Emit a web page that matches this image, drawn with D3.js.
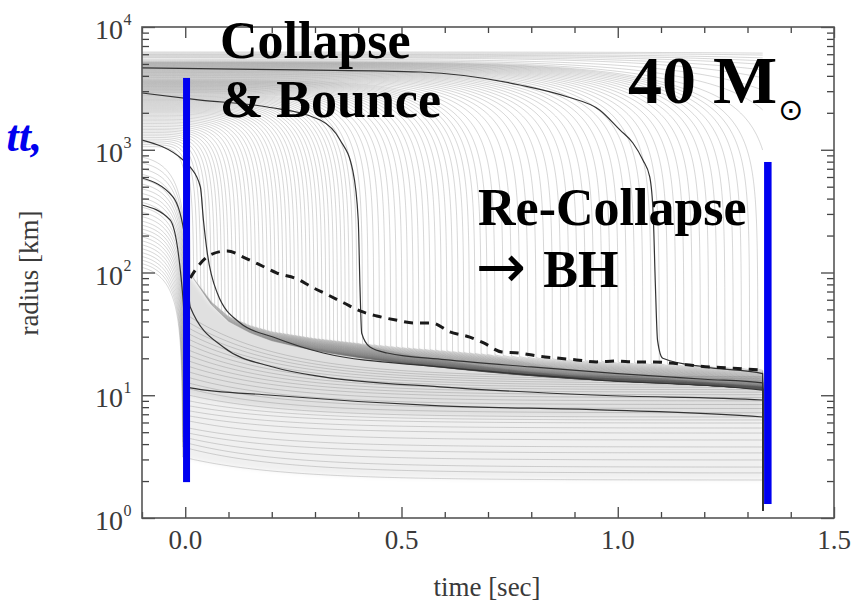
<!DOCTYPE html>
<html>
<head>
<meta charset="utf-8">
<script src="https://cdn.jsdelivr.net/npm/d3@7"></script>
<style>
  html, body { margin: 0; padding: 0; background: #fff; }
  svg { display: block; }
</style>
</head>
<body>
<svg id="chart" width="853" height="604"></svg>
<script>
// ---------------------------------------------------------------
// Mass-shell trajectories of a collapsing 40 Msun core (radius vs time)
// ---------------------------------------------------------------

// axis ticks
const timeMajor = [0.0, 0.5, 1.0, 1.5];
const timeMinor = [-0.1, 0.1, 0.2, 0.3, 0.4, 0.6, 0.7, 0.8, 0.9, 1.1, 1.2, 1.3, 1.4];
const radiusMajor = [1, 10, 100, 1000, 10000];
const radiusExponent = ["0", "1", "2", "3", "4"];
const radiusMinorMantissa = [2, 3, 4, 5, 6, 7, 8, 9];

// key times [s]
const tFirst = -0.1;     // first sample of the run
const tBH = 1.335;       // black hole formation, end of the run

// outer shells: time at which each shell plunges onto the core [s]
const outerDropTime = [
  0.012, 0.020, 0.028, 0.036, 0.044, 0.052, 0.060, 0.068, 0.076, 0.084, 0.092, 0.100,
  0.109, 0.118, 0.127, 0.136, 0.145, 0.154, 0.163, 0.172, 0.181, 0.190, 0.199, 0.208,
  0.217, 0.226, 0.235, 0.244, 0.253, 0.262, 0.271, 0.280, 0.289, 0.298, 0.307, 0.316,
  0.325, 0.334, 0.343, 0.352, 0.361, 0.370, 0.379, 0.388, 0.397,
  0.410, 0.423, 0.436, 0.449, 0.462, 0.475, 0.488, 0.501, 0.514, 0.527, 0.540, 0.553,
  0.566, 0.579, 0.592, 0.605, 0.618, 0.631, 0.644, 0.657, 0.670, 0.684, 0.698,
  0.716, 0.735, 0.754, 0.773, 0.792, 0.811, 0.830, 0.849, 0.868, 0.887, 0.906, 0.925,
  0.944, 0.963, 0.982, 1.001, 1.020, 1.039, 1.058, 1.077, 1.096, 1.115, 1.134, 1.153,
  1.172, 1.191, 1.210, 1.229, 1.248, 1.267, 1.286, 1.305, 1.324,
  1.36, 1.42, 1.50, 1.60, 1.72, 1.86, 2.00, 2.20, 2.50, 2.80
];
// radius at t = -0.1 s of a shell that plunges at a given time
const infallAnchorTime   = [0.0,  0.04, 0.10, 0.20, 0.40, 0.70, 1.08, 1.335, 1.60, 2.00, 2.80];
const infallAnchorRadius = [1000, 1200, 1500, 2000, 2900, 3700, 4640, 5200,  5600, 5900, 6250];

// outer edge of the accreted mantle (where infalling shells land) [km]
const mantleTime   = [0.0, 0.03, 0.06, 0.10, 0.15, 0.20, 0.30, 0.40, 0.50, 0.60, 0.70, 0.80, 0.90, 1.00, 1.10, 1.20, 1.335];
const mantleRadius = [110, 80,   58,   44,   37,   33,   29,   26.5, 24.5, 23,   21.5, 20.3, 19.3, 18.6, 18,   17.3, 16.2];

// inner core shells: radius at -0.1 s, plunge time, radius after bounce, radius at BH formation
const coreStart = [110, 118, 126, 135, 145, 156, 168, 181, 195, 210, 226, 243, 262,
                   285, 310, 340, 372, 405, 440, 480, 525, 575, 630, 700, 780, 870];
const coreDrop  = [-0.006, -0.0055, -0.005, -0.0045, -0.004, -0.0035, -0.003, -0.0025, -0.002, -0.0015, -0.001, -0.0005, 0.0,
                   0.0003, 0.0006, 0.0009, 0.0012, 0.0015, 0.0018, 0.0021, 0.0024, 0.0027, 0.003, 0.0035, 0.004, 0.0045];
const coreLand  = [3.14, 3.79, 4.16, 4.57, 5.02, 5.51, 6.29, 6.91, 7.59, 8.33, 9.15, 10.2, 11.5,
                   12.8, 14.2, 15.8, 17.5, 19.4, 21.5, 23.8, 26.4, 29.2, 32.4, 36, 40, 45];
const coreLate  = [2.04, 2.33, 2.60, 2.97, 3.39, 3.79, 4.32, 4.92, 5.41, 5.94, 6.29, 6.65, 7.2,
                   7.8, 8.4, 9.0, 9.6, 10.1, 10.6, 11.1, 11.6, 12.1, 12.6, 13.1, 13.6, 14.1];

// highlighted shells
const shellATime   = [-0.1, 0.266, 0.543, 0.774, 0.885, 0.958, 1.005, 1.035, 1.058, 1.074, 1.082, 1.087, 1.092, 1.104, 1.20, 1.335];
const shellARadius = [4640, 4470,  4300,  3370,  2690,  2110,  1450,  1135,  826,   600,   294,   79,    28,    20,    17,   15];
const shellBTime   = [-0.1, 0.035, 0.19, 0.312, 0.358, 0.387, 0.400, 0.404, 0.408, 0.427, 0.467, 0.60, 0.80, 1.00, 1.20, 1.335];
const shellBRadius = [2900, 2540,  2230, 1746,  1200,  684,   268,   76,    32,    24.7,  22.1,  19.5, 17,   15,   13.5, 12.6];
const shellCTime   = [-0.1, -0.005, 0.0115, 0.035, 0.042, 0.051, 0.074, 0.127, 0.203, 0.319, 0.589, 0.958, 1.335];
const shellCRadius = [1200, 825,    723,    497,   268,   144,   68,    38.8,  29.8,  22.1,  17.0,  13.3,  11.0];
const shellDTime   = [-0.1, -0.028, 0.0, 0.0115, 0.0878, 0.203, 0.319, 0.589, 0.958, 1.335];
const shellDRadius = [589,  412,    184, 52.4,   24.7,   17.0,  14.1,  11.7,  10.0,  9.15];
const shellETime   = [-0.1, -0.035, -0.005, 0.007, 0.0115, 0.20, 0.589, 0.958, 1.335];
const shellERadius = [355,  268,    60,     12.1,  11.5,   10.0, 8.2,   7.6,   6.65];

// shock radius
const shockTime   = [0.0115, 0.030, 0.058, 0.097, 0.139, 0.178, 0.212, 0.259, 0.293, 0.330, 0.367, 0.404, 0.443, 0.487, 0.531, 0.570, 0.612, 0.658, 0.690, 0.732, 0.771, 0.813, 0.859, 0.905, 0.951, 0.998, 1.037, 1.083, 1.120, 1.166, 1.212, 1.259, 1.298, 1.333];
const shockRadius = [90.2,   113,   139,   150,   131,   113,   99,    88.5,  76,    65.6,  56.4,  48.6,  44.2,  41,    38.8,  38.8,  32.8,  29.8,  26.7,  22.5,  22.1,  20.9,  20.1,  19.4,  18.7,  19.0,  18.7,  18.7,  18.3,  17.6,  17.0,  16.7,  16.3,  16.1];

// time markers: bounce and black hole formation, with their radius extent
const markerTime = [0.003, 1.347];
const markerTop = [3845, 795];
const markerBottom = [1.96, 1.30];
const markerWidth = [7, 7.5];

// ---------------------------------------------------------------
const svg = d3.select("#chart");
const x = d3.scaleLinear().domain([-0.1, 1.5]).range([142, 834]);
const y = d3.scaleLog().domain([1, 1e4]).range([518, 27]);

const serif = "'Liberation Serif', 'Times New Roman', Times, serif";

const defs = svg.append("defs");
defs.append("clipPath").attr("id", "plotClip")
  .append("rect")
  .attr("x", x(-0.1)).attr("y", y(1e4))
  .attr("width", x(1.5) - x(-0.1)).attr("height", y(1) - y(1e4));
defs.append("filter").attr("id", "soft")
  .attr("x", "-5%").attr("y", "-5%").attr("width", "110%").attr("height", "110%")
  .append("feGaussianBlur").attr("stdDeviation", 2);

const plot = svg.append("g").attr("clip-path", "url(#plotClip)");

// --- trajectory model helpers ---
const shapePower = 5, shapeExp = 2 / 3;
function infallShape(s) {
  if (s >= 1) return 0;
  if (s <= 0) return 1;
  return Math.pow(1 - Math.pow(s, shapePower), shapeExp);
}
function softFloorLog(logR, logFloor, k) {
  const d = (logR - logFloor) * k;
  const sp = d > 30 ? d : Math.log1p(Math.exp(d));
  return logFloor + sp / k;
}
const mantleLog = d3.scaleLinear().domain(mantleTime)
  .range(mantleRadius.map(Math.log10)).clamp(true);
const startRadiusOf = d3.scaleLinear().domain(infallAnchorTime)
  .range(infallAnchorRadius).clamp(true);

function sampleTimes(td) {
  const ts = [];
  for (let t = tFirst; t < tBH; t += 0.004) ts.push(t);
  for (let t = td - 0.04; t < td + 0.03; t += 0.0005) if (t > tFirst && t < tBH) ts.push(t);
  ts.push(tBH);
  return ts.sort((a, b) => a - b);
}

const settleDepth = 0.16, settleTime = 0.3;   // decades, seconds
function outerTrack(td) {
  const r0 = startRadiusOf(td);
  const pts = sampleTimes(td).map(t => {
    const s = (t - tFirst) / (td - tFirst);
    const f = infallShape(s);
    const logFF = f > 0 ? Math.log10(r0 * f) : -5;
    const dt = Math.max(0, t - td);
    const floor = mantleLog(t) - settleDepth * (1 - Math.exp(-dt / settleTime));
    return [t, Math.pow(10, softFloorLog(logFF, floor, 12))];
  });
  return finishTrack(pts);
}

const coreT0 = -0.25, coreSettle = 0.22;
function coreTrack(i) {
  const td = coreDrop[i];
  const r0 = coreStart[i] / infallShape((tFirst - coreT0) / (td - coreT0));
  const lLand = Math.log10(coreLand[i]), lLate = Math.log10(coreLate[i]);
  const norm = 1 - Math.exp(-(tBH - td) / coreSettle);
  const pts = sampleTimes(td).map(t => {
    const f = infallShape((t - coreT0) / (td - coreT0));
    const logFF = f > 0 ? Math.log10(r0 * f) : -5;
    const h = (1 - Math.exp(-Math.max(0, t - td) / coreSettle)) / norm;
    const floor = lLand + (lLate - lLand) * h;
    return [t, Math.pow(10, softFloorLog(logFF, floor, 12))];
  });
  return finishTrack(pts);
}

// shells inside the collapsing core fall through at black hole formation
function finishTrack(pts) {
  const last = pts[pts.length - 1];
  if (last[1] < 60) pts.push([tBH + 0.0006, 1.15]);
  return pts;
}

const line = d3.line().x(d => x(d[0])).y(d => y(d[1]));
const smoothLine = d3.line().x(d => x(d[0])).y(d => y(d[1])).curve(d3.curveMonotoneX);

// density shading of the settled layers (between the mantle edge and inner shells)
const coreTracks = coreStart.map((_, i) => coreTrack(i));
function bandBetween(lowerIdx, upperFn) {
  const pts = coreTracks[lowerIdx].filter(d => d[0] >= 0.004 && d[0] <= tBH);
  return d3.area()
    .x(d => x(d[0]))
    .y0(d => y(d[1]))
    .y1(d => y(upperFn(d[0])))(pts);
}
const mantleAt = t => Math.pow(10, mantleLog(t) - 0.02);
const midIdx = 11;
const midTrack = d3.scaleLinear()
  .domain(coreTracks[midIdx].filter(d => d[0] <= tBH).map(d => d[0]))
  .range(coreTracks[midIdx].filter(d => d[0] <= tBH).map(d => d[1]));
const shade = plot.append("g").attr("filter", "url(#soft)");
shade.append("path").attr("d", bandBetween(midIdx, mantleAt))
  .attr("fill", "#000").attr("fill-opacity", 0.12);
shade.append("path").attr("d", bandBetween(0, midTrack))
  .attr("fill", "#000").attr("fill-opacity", 0.06);

// thin shells
const thin = plot.append("g")
  .attr("fill", "none").attr("stroke", "#555")
  .attr("stroke-width", 0.6).attr("stroke-opacity", 0.4);
coreTracks.forEach(pts => thin.append("path").attr("d", line(pts)));
outerDropTime.forEach(td => thin.append("path").attr("d", line(outerTrack(td))));

// highlighted shells
const zip = (ts, rs) => ts.map((t, i) => [t, rs[i]]);
const bold = plot.append("g")
  .attr("fill", "none").attr("stroke", "#333").attr("stroke-width", 1.2);
[[shellATime, shellARadius], [shellBTime, shellBRadius], [shellCTime, shellCRadius],
 [shellDTime, shellDRadius], [shellETime, shellERadius]].forEach(([ts, rs]) => {
  bold.append("path").attr("d", smoothLine(finishTrack(zip(ts, rs))));
});

// shock
plot.append("path")
  .attr("d", smoothLine(zip(shockTime, shockRadius)))
  .attr("fill", "none").attr("stroke", "#1a1a1a")
  .attr("stroke-width", 3).attr("stroke-dasharray", "9,7");

// --- frame and axes ---
const radiusMinor = [];
radiusMajor.slice(0, -1).forEach(d => radiusMinorMantissa.forEach(m => radiusMinor.push(d * m)));

function styleAxis(g) {
  g.select(".domain").remove();
  g.selectAll("line").attr("stroke", "#444").attr("stroke-width", 1.3);
  g.selectAll("text").remove();
}
svg.append("g").attr("transform", `translate(0,${y(1)})`)
  .call(d3.axisBottom(x).tickValues(timeMinor).tickSize(-6)).call(styleAxis);
svg.append("g").attr("transform", `translate(0,${y(1)})`)
  .call(d3.axisBottom(x).tickValues(timeMajor).tickSize(-11)).call(styleAxis);
svg.append("g").attr("transform", `translate(0,${y(1e4)})`)
  .call(d3.axisTop(x).tickValues(timeMinor).tickSize(-6)).call(styleAxis);
svg.append("g").attr("transform", `translate(0,${y(1e4)})`)
  .call(d3.axisTop(x).tickValues(timeMajor).tickSize(-11)).call(styleAxis);
svg.append("g").attr("transform", `translate(${x(-0.1)},0)`)
  .call(d3.axisLeft(y).tickValues(radiusMinor).tickSize(-7)).call(styleAxis);
svg.append("g").attr("transform", `translate(${x(-0.1)},0)`)
  .call(d3.axisLeft(y).tickValues(radiusMajor).tickSize(-13)).call(styleAxis);
svg.append("g").attr("transform", `translate(${x(1.5)},0)`)
  .call(d3.axisRight(y).tickValues(radiusMinor).tickSize(-7)).call(styleAxis);
svg.append("g").attr("transform", `translate(${x(1.5)},0)`)
  .call(d3.axisRight(y).tickValues(radiusMajor).tickSize(-13)).call(styleAxis);

svg.append("rect")
  .attr("x", x(-0.1)).attr("y", y(1e4))
  .attr("width", x(1.5) - x(-0.1)).attr("height", y(1) - y(1e4))
  .attr("fill", "none").attr("stroke", "#555").attr("stroke-width", 1.6);

// tick labels
const labels = svg.append("g").attr("font-family", serif).attr("fill", "#3a3a3a");
timeMajor.forEach(t => {
  labels.append("text").attr("x", x(t)).attr("y", 549)
    .attr("text-anchor", "middle").attr("font-size", 27)
    .text(d3.format(".1f")(t));
});
radiusMajor.forEach((r, i) => {
  labels.append("text").attr("x", 123).attr("y", y(r) + 12)
    .attr("text-anchor", "end").attr("font-size", 28).text("10");
  labels.append("text").attr("x", 123.5).attr("y", y(r) - 2)
    .attr("text-anchor", "start").attr("font-size", 16).text(radiusExponent[i]);
});
labels.append("text").attr("x", 487).attr("y", 596)
  .attr("text-anchor", "middle").attr("font-size", 27).text("time [sec]");
labels.append("text")
  .attr("transform", "translate(38,273) rotate(-90)")
  .attr("text-anchor", "middle").attr("font-size", 27).text("radius [km]");

// --- markers and annotations ---
markerTime.forEach((t, i) => {
  svg.append("rect")
    .attr("x", x(t) - markerWidth[i] / 2).attr("y", y(markerTop[i]))
    .attr("width", markerWidth[i]).attr("height", y(markerBottom[i]) - y(markerTop[i]))
    .attr("fill", "#0000f0");
});

const notes = svg.append("g").attr("font-family", serif).attr("font-weight", "bold").attr("fill", "#000");
notes.append("text").attr("x", 220).attr("y", 58).attr("font-size", 52).text("Collapse");
notes.append("text").attr("x", 220).attr("y", 117).attr("font-size", 52).text("& Bounce");
notes.append("text").attr("x", 478).attr("y", 225).attr("font-size", 52).text("Re-Collapse");
const bh = notes.append("text").attr("x", 476).attr("y", 287).attr("font-size", 52);
bh.append("tspan").attr("font-family", "'DejaVu Sans', sans-serif")
  .attr("font-weight", "normal").attr("font-size", 60).text("→");
bh.append("tspan").attr("dx", 17).text("BH");
const mass = notes.append("text").attr("x", 628).attr("y", 103).attr("font-size", 68);
mass.append("tspan").text("40 M");
mass.append("tspan").attr("font-size", 30).attr("font-weight", "normal")
  .attr("font-family", "'DejaVu Sans', sans-serif").attr("dx", 1).attr("dy", 17).text("⊙");

svg.append("text").attr("x", 42).attr("y", 151)
  .attr("text-anchor", "end").attr("font-family", serif)
  .attr("font-weight", "bold").attr("font-style", "italic")
  .attr("font-size", 44).attr("fill", "#0000ee").text("tt,");
</script>
</body>
</html>
